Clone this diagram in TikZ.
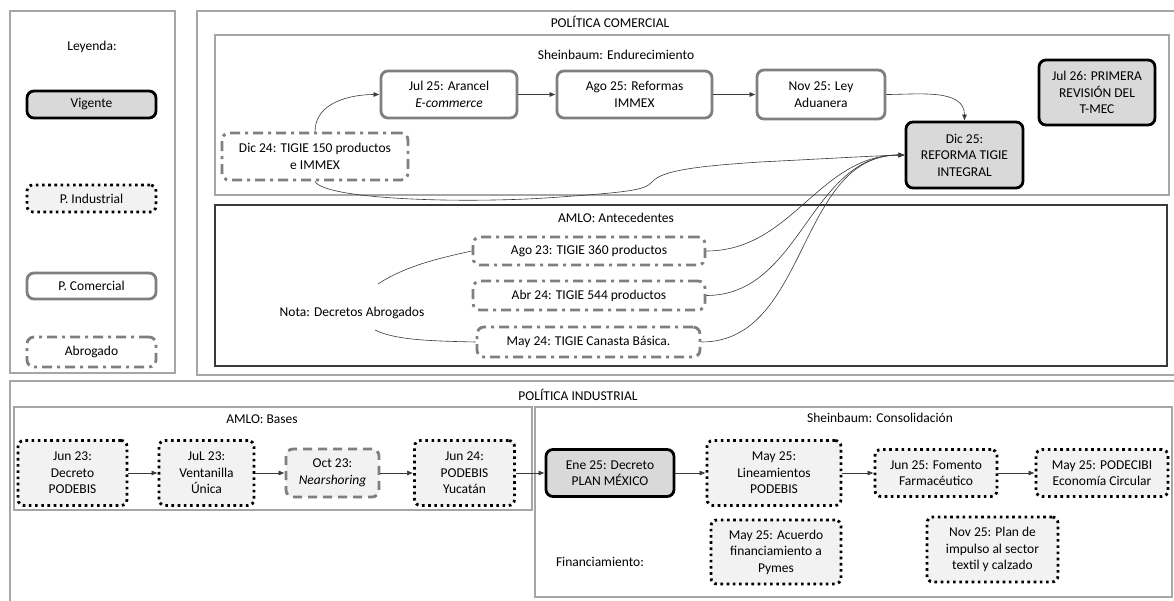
\documentclass[tikz,border=0pt]{standalone}
\usepackage{fontspec}
\setmainfont{Carlito}
\usetikzlibrary{arrows.meta}
\definecolor{lgray}{HTML}{F2F2F2}
\definecolor{mgray}{HTML}{D9D9D9}
\definecolor{bgray}{HTML}{7F7F7F}
\definecolor{fgray}{HTML}{A6A6A6}
\definecolor{lncol}{HTML}{3A3A3A}
\tikzset{
 txt/.style={font=\fontsize{13.5}{16.5}\selectfont, align=center, inner sep=0pt},
 box/.style={txt, rounded corners=7pt, line width=2.8pt},
 vig/.style={box, draw=black, fill=mgray},
 ind/.style={box, draw=black, fill=lgray, dash pattern=on 2.6pt off 3.6pt, rounded corners=6pt},
 com/.style={box, draw=bgray, fill=white},
 abr/.style={box, draw=bgray, fill=white, dash pattern=on 10pt off 5pt on 3pt off 5pt},
 nsh/.style={box, draw=bgray, fill=lgray, dash pattern=on 9pt off 6pt},
 frame/.style={draw=fgray, line width=1.4pt},
 conn/.style={draw=lncol, line width=0.6pt},
 arr/.style={conn, -{Latex[length=6pt,width=5pt]}},
 sz/.style 2 args={minimum width=#1pt, minimum height=#2pt},
}
\begin{document}
\begin{tikzpicture}[x=1pt,y=-1pt]
\useasboundingbox[fill=white] (0,0) rectangle (1174,601);
% frames
\draw[frame] (10,11) rectangle (175,373);
\draw[frame] (197,11) rectangle (1177,375);
\draw[frame] (215,35) rectangle (1169,195);
\draw[draw=lncol, line width=1.2pt] (215,205) rectangle (1167,366);
\draw[frame] (10,381) rectangle (1177,606);
\draw[frame] (14,407) rectangle (532,510);
\draw[frame] (535,407) rectangle (1172,597);

% legend
\node[txt] (ley) at (92,47) {Leyenda:};
\node[vig, sz={129}{27}] (lv) at (91.5,104.5) {Vigente};
\node[ind, sz={129}{27}] (li) at (91.5,198.5) {P. Industrial};
\node[com, sz={129}{26}] (lc) at (91.5,286) {P. Comercial};
\node[abr, sz={129}{30}] (la) at (91.5,352) {Abrogado};

% comercial
\node[txt] (tcom) at (610,22) {POLÍTICA COMERCIAL};
\node[txt] (tsh1) at (616,55) {Sheinbaum: Endurecimiento};
\node[txt] (tam1) at (616,218) {AMLO: Antecedentes};

\node[abr, sz={186}{47}] (d24) at (315,156.5) {Dic 24: TIGIE 150 productos\\e IMMEX};
\node[com, sz={136}{47}] (j25) at (449,94.5) {Jul 25: Arancel\\\textit{E-commerce}};
\node[com, sz={155}{47}] (a25) at (634.5,94.5) {Ago 25: Reformas\\IMMEX};
\node[com, sz={128}{49}] (n25) at (821,94.5) {Nov 25: Ley\\Aduanera};
\node[vig, sz={117}{66}] (d25) at (964.5,155) {Dic 25:\\REFORMA TIGIE\\INTEGRAL};
\node[vig, sz={116}{65}] (t26) at (1097,92.5) {Jul 26: PRIMERA\\REVISIÓN DEL\\T-MEC};

\node[abr, sz={232}{28}] (a23) at (589,251) {Ago 23: TIGIE 360 productos};
\node[abr, sz={232}{29}] (a24) at (589,295.5) {Abr 24: TIGIE 544 productos};
\node[abr, sz={223}{30}] (m24) at (588.5,342) {May 24: TIGIE Canasta Básica.};
\node[txt] (nota) at (352,313) {Nota: Decretos Abrogados};

\draw[arr] (j25.east) -- (a25.west);
\draw[arr] (a25.east) -- (n25.west);
\draw[arr] (n25.east) to[out=0,in=90] (d25.north);
\draw[arr] (d24.north) to[out=90,in=180] (j25.west);
\draw[arr] (d24.south) .. controls (325,200) and (470,204) .. (560,197)
  .. controls (630,192) and (645,190) .. (652,182)
  .. controls (662,170) and (700,166) .. (760,162)
  .. controls (820,159) and (870,156) .. (d25.west);
\draw[arr] (a23.east) to[out=0,in=180] (d25.west);
\draw[arr] (a24.east) to[out=0,in=180] (d25.west);
\draw[arr] (m24.east) to[out=0,in=180] (d25.west);
\coordinate (n1) at (378,284);
\coordinate (n2) at (375,330);
\draw[conn] (n1) .. controls (405,266) and (440,258) .. (a23.west);
\draw[conn] (n2) .. controls (395,340) and (430,341) .. (m24.west);

% industrial
\node[txt] (tind) at (578,395) {POLÍTICA INDUSTRIAL};
\node[txt] (tam2) at (262,419) {AMLO: Bases};
\node[txt] (tsh2) at (880,418) {Sheinbaum: Consolidación};

\node[ind, sz={109}{65}] (j23) at (72.5,473) {Jun 23:\\Decreto\\PODEBIS};
\node[ind, sz={95}{65}] (jl23) at (206.5,473) {JuL 23:\\Ventanilla\\Única};
\node[nsh, sz={93}{48}] (o23) at (332.5,473) {Oct 23:\\\textit{Nearshoring}};
\node[ind, sz={100}{65}] (j24) at (464.5,473) {Jun 24:\\PODEBIS\\Yucatán};
\node[vig, sz={128}{47}] (e25) at (610,473) {Ene 25: Decreto\\PLAN MÉXICO};
\node[ind, sz={134}{65}] (l25) at (774,473) {May 25:\\Lineamientos\\PODEBIS};
\node[ind, sz={122}{47}] (f25) at (936,473) {Jun 25: Fomento\\Farmacéutico};
\node[ind, sz={132}{47}] (p25) at (1102,473) {May 25: PODECIBI\\Economía Circular};
\node[ind, sz={130}{64}] (ac25) at (776,552) {May 25: Acuerdo\\financiamiento a\\Pymes};
\node[ind, sz={131}{65}] (pl25) at (992.5,549.5) {Nov 25: Plan de\\impulso al sector\\textil y calzado};
\node[txt] (fin) at (600,562) {Financiamiento:};

\draw[arr] (j23.east) -- (jl23.west);
\draw[arr] (jl23.east) -- (o23.west);
\draw[arr] (o23.east) -- (j24.west);
\draw[arr] (j24.east) -- (e25.west);
\draw[arr] (e25.east) -- (l25.west);
\draw[arr] (l25.east) -- (f25.west);
\draw[arr] (f25.east) -- (p25.west);
\end{tikzpicture}
\end{document}
